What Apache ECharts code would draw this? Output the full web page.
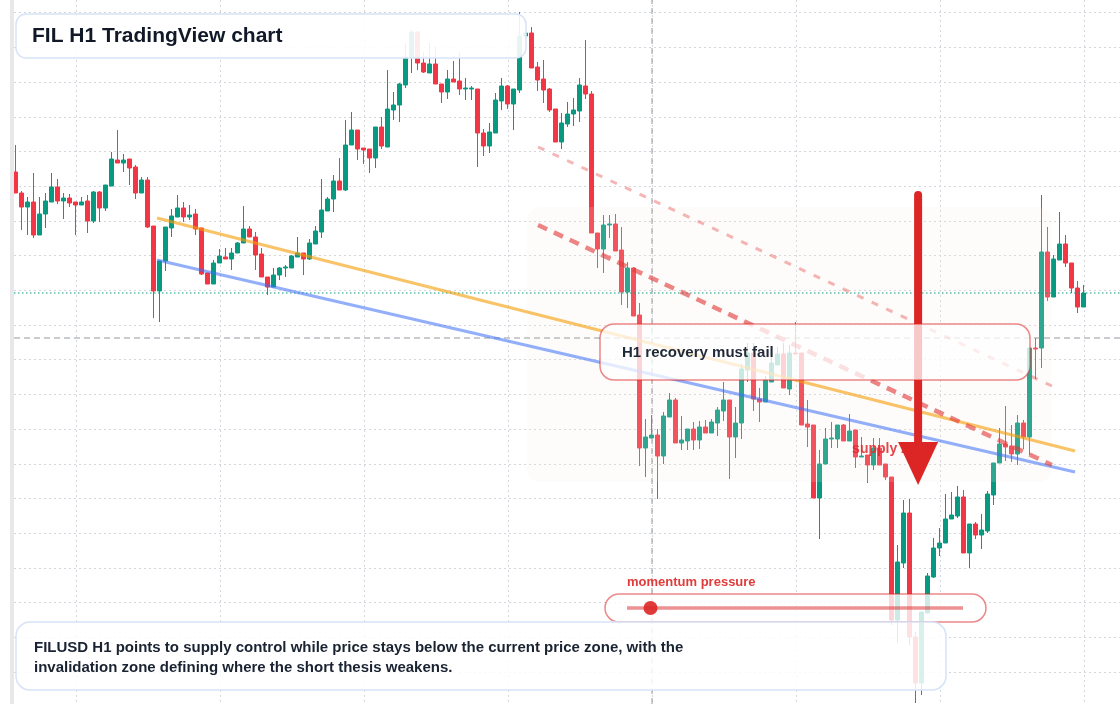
<!DOCTYPE html>
<html><head><meta charset="utf-8">
<script src="https://cdn.jsdelivr.net/npm/echarts@6/dist/echarts.min.js"></script>
<style>html,body{margin:0;padding:0;background:#fff}#chart{width:1120px;height:704px}</style>
</head><body><div id="chart"></div>
<script>
// FIL/USD hourly candles (price units)
const openP = [
5.32,5.11,4.97,5.02,4.69,4.90,5.02,5.17,5.03,5.06,
5.02,4.99,5.03,4.83,5.12,4.96,5.18,5.44,5.41,5.45,
5.37,5.11,5.24,4.78,4.13,4.43,4.76,4.87,4.96,4.87,
4.90,4.76,4.31,4.20,4.41,4.47,4.45,4.51,4.61,4.75,
4.67,4.50,4.27,4.17,4.29,4.36,4.36,4.47,4.51,4.45,
4.60,4.72,4.93,5.05,5.23,5.14,5.59,5.74,5.56,5.55,
5.46,5.77,5.57,5.94,5.99,6.19,6.47,6.72,6.41,6.31,
6.40,6.20,6.12,6.25,6.23,6.15,6.15,6.15,5.71,5.58,
5.71,6.03,6.18,6.00,6.14,6.68,6.71,6.37,6.25,6.15,
5.95,5.62,5.80,5.90,5.93,6.18,6.10,4.71,4.55,4.79,
4.80,4.54,4.12,4.36,3.89,2.56,2.66,2.69,2.48,2.87,
3.04,2.61,2.63,2.75,2.64,2.77,2.71,2.81,2.93,3.04,
2.67,2.81,3.34,3.51,3.05,3.02,3.22,3.39,3.50,3.15,
3.51,3.51,2.80,2.79,2.06,2.40,2.65,2.65,2.79,2.63,
2.74,2.47,2.49,2.39,2.56,2.40,2.27,0.84,1.41,1.91,
0.67,0.21,0.91,1.27,1.56,1.61,1.85,1.88,2.07,1.51,
1.80,1.69,1.73,2.09,2.41,2.60,2.58,2.50,2.81,2.67,
3.56,3.56,4.52,4.07,4.44,4.60,4.41,4.16,3.97
];
const closeP = [
5.11,4.97,5.02,4.69,4.90,5.03,5.17,5.03,5.06,5.01,
4.99,5.02,4.83,5.12,4.96,5.19,5.45,5.41,5.44,5.36,
5.11,5.24,4.77,4.13,4.43,4.77,4.88,4.96,4.87,4.89,
4.75,4.30,4.20,4.41,4.48,4.45,4.51,4.61,4.75,4.67,
4.49,4.27,4.17,4.29,4.36,4.37,4.48,4.51,4.45,4.61,
4.73,4.94,5.05,5.23,5.14,5.59,5.74,5.55,5.54,5.46,
5.77,5.58,5.95,5.99,6.20,6.47,6.72,6.41,6.32,6.40,
6.20,6.12,6.25,6.22,6.15,6.16,6.16,5.71,5.58,5.72,
6.04,6.18,6.00,6.15,6.68,6.71,6.36,6.24,6.14,5.94,
5.62,5.81,5.90,5.94,6.19,6.10,4.71,4.55,4.79,4.80,
4.53,4.12,4.36,3.88,2.56,2.67,2.69,2.48,2.88,3.04,
2.61,2.64,2.75,2.64,2.77,2.71,2.82,2.94,3.04,2.67,
2.81,3.35,3.51,3.05,3.02,3.24,3.41,3.50,3.16,3.51,
3.50,2.79,2.77,2.06,2.40,2.65,2.66,2.79,2.63,2.73,
2.47,2.48,2.39,2.56,2.39,2.27,0.84,1.42,1.91,0.67,
0.21,0.92,1.28,1.56,1.61,1.85,1.89,2.07,1.51,1.80,
1.69,1.74,2.10,2.41,2.60,2.57,2.50,2.81,2.67,3.56,
3.55,4.52,4.07,4.45,4.60,4.41,4.16,3.97,4.11
];
const lowP = [
5.11,4.74,4.69,4.66,4.69,4.76,5.02,5.00,4.85,4.97,
4.69,4.99,4.71,4.81,4.82,4.93,5.18,5.41,5.32,5.19,
5.05,5.11,4.76,3.86,3.82,4.33,4.67,4.87,4.82,4.84,
4.69,4.29,4.20,4.20,4.41,4.45,4.34,4.51,4.61,4.67,
4.34,4.27,4.09,4.17,4.24,4.27,4.36,4.47,4.29,4.44,
4.60,4.66,4.93,4.92,5.14,5.13,5.59,5.44,5.40,5.31,
5.36,5.55,5.57,5.84,5.82,6.16,6.31,6.34,6.31,6.31,
6.20,6.01,6.05,6.22,6.09,6.04,6.04,5.37,5.48,5.51,
5.71,5.94,5.95,5.74,6.11,6.66,6.36,6.13,6.01,5.92,
5.62,5.55,5.77,5.78,5.82,6.05,4.71,4.36,4.31,4.66,
4.53,3.99,3.96,3.88,2.38,2.27,2.66,2.05,2.40,2.87,
2.61,2.54,2.54,2.54,2.55,2.71,2.71,2.68,2.83,2.25,
2.46,2.65,3.22,2.93,2.82,3.02,3.22,3.39,3.16,3.09,
3.50,2.79,2.57,2.06,1.65,2.40,2.56,2.56,2.63,2.63,
2.36,2.47,2.21,2.34,2.39,2.24,0.79,0.61,1.36,0.59,
0.01,0.09,0.91,1.26,1.48,1.61,1.85,1.86,1.51,1.36,
1.65,1.55,1.71,1.99,2.41,2.43,2.42,2.39,2.55,2.49,
3.25,3.36,4.03,4.07,4.44,4.37,4.11,3.91,3.97
];
const highP = [
5.59,5.13,5.07,5.31,5.07,5.11,5.31,5.25,5.11,5.10,
5.02,5.07,5.09,5.13,5.13,5.19,5.52,5.74,5.50,5.45,
5.39,5.27,5.27,4.78,4.43,4.77,4.95,5.09,5.02,4.99,
4.95,4.76,4.31,4.44,4.55,4.56,4.56,4.62,4.98,4.78,
4.72,4.56,4.27,4.36,4.37,4.39,4.49,4.67,4.51,4.65,
4.78,5.25,5.07,5.29,5.46,5.84,5.92,5.74,5.56,5.55,
5.77,5.87,6.34,6.12,6.21,6.61,6.74,6.73,6.52,6.61,
6.57,6.20,6.34,6.43,6.52,6.26,6.18,6.15,5.75,5.81,
6.11,6.26,6.19,6.15,6.92,6.73,6.77,6.42,6.44,6.16,
5.95,5.91,6.02,6.06,6.26,6.64,6.13,4.71,4.89,4.89,
4.90,4.77,4.42,4.37,4.01,2.85,2.89,2.75,2.92,3.11,
3.06,2.88,2.75,2.82,2.83,2.84,2.85,2.97,3.22,3.04,
2.97,3.40,3.61,3.61,3.16,3.28,3.57,3.57,3.61,3.59,
3.82,3.51,3.04,2.79,2.54,2.76,2.82,2.79,2.80,2.90,
2.74,2.67,2.49,2.66,2.66,2.40,2.27,1.59,2.04,2.05,
0.72,0.92,1.31,1.66,1.76,2.10,2.12,2.18,2.14,1.80,
1.82,1.90,2.13,2.41,2.76,2.98,2.79,2.89,2.84,3.56,
3.66,5.09,4.77,4.49,4.92,4.69,4.41,4.23,4.19
];
const categories = openP.map((_, i) => 'H1-' + (i + 1));

// annotations, in [candle index, price] units
const zoneBox = [85.2, 4.97, 172.7, 2.22];
const orangeTrend = [[23.55, 4.86], [176.55, 2.53]];
const blueTrend = [[23.55, 4.44], [176.55, 2.32]];
const upperRedDash = [[87.05, 5.57], [172.7, 3.18]];
const lowerRedDash = [[87.05, 4.79], [172.7, 2.39]];
const currentPrice = 4.11;
const crossPrice = 3.66;
const crossIndex = 106.05;
const arrowSpec = [150.4, 5.09, 2.62, 2.19];
const supplyLabel = [139.4, 2.55];
const momentumLevel = 0.07;

const FONT = '"Liberation Sans", Arial, Helvetica, sans-serif';
const UP = '#089981', DOWN = '#f23645';
const GRID_LINE = {show: true, lineStyle: {color: '#d3d7dd', width: 1, type: [2, 3]}};
const HIDDEN = {axisLine: {show: false}, axisTick: {show: false}, axisLabel: {show: false}};

const candles = openP.map((o, i) => [o, closeP[i], lowP[i], highP[i]]);

const chart = echarts.init(document.getElementById('chart'), null, {renderer: 'canvas'});

const trackX0 = 627, trackX1 = 963;
const knobX = trackX0 + momentumLevel * (trackX1 - trackX0);

chart.setOption({
  animation: false,
  backgroundColor: '#ffffff',
  grid: [
    {left: 12.7, top: 0, width: 1074, height: 704},
    {left: 14, right: 0, top: 12.7, bottom: 32},
    {left: 76, right: 36, top: 0, bottom: 0},
    {left: 14, right: 0, top: 0, bottom: 0}
  ],
  xAxis: [
    {type: 'category', gridIndex: 0, data: categories, show: false, boundaryGap: true},
    {type: 'value', gridIndex: 0, min: -0.5, max: 178.5, show: false},
    Object.assign({type: 'value', gridIndex: 1, min: 0, max: 1, splitLine: {show: false}}, HIDDEN),
    Object.assign({type: 'value', gridIndex: 2, min: 0, max: 7, interval: 1, splitLine: GRID_LINE}, HIDDEN),
    {type: 'value', gridIndex: 3, min: 0, max: 1, show: false}
  ],
  yAxis: [
    {type: 'value', gridIndex: 0, min: 0, max: 7.04, show: false, splitLine: {show: false}},
    Object.assign({type: 'value', gridIndex: 1, min: 0, max: 19, interval: 1, splitLine: GRID_LINE}, HIDDEN),
    Object.assign({type: 'value', gridIndex: 2, min: 0, max: 1, splitLine: {show: false}}, HIDDEN),
    {type: 'value', gridIndex: 3, min: 0, max: 7.04, show: false}
  ],
  series: [
    {type: 'scatter', xAxisIndex: 2, yAxisIndex: 1, data: [], silent: true},
    {type: 'scatter', xAxisIndex: 3, yAxisIndex: 2, data: [], silent: true},
    {
      type: 'candlestick', xAxisIndex: 0, yAxisIndex: 0, z: 2,
      data: candles, barWidth: 4,
      itemStyle: {color: UP, color0: DOWN, borderColor: UP, borderColor0: DOWN, borderWidth: 1}
    },
    {
      type: 'custom', xAxisIndex: 1, yAxisIndex: 0, z: 3, silent: true,
      data: [zoneBox],
      encode: {x: [0, 2], y: [1, 3]},
      renderItem: (params, api) => {
        const p1 = api.coord([api.value(0), api.value(1)]);
        const p2 = api.coord([api.value(2), api.value(3)]);
        return {type: 'rect', shape: {x: p1[0], y: p1[1], width: p2[0] - p1[0], height: p2[1] - p1[1], r: 14},
          style: {fill: 'rgba(250,235,225,0.16)'}};
      }
    },
    {type: 'line', xAxisIndex: 4, yAxisIndex: 3, z: 4, silent: true, symbol: 'none',
      data: [[0, currentPrice], [1, currentPrice]],
      lineStyle: {color: UP, width: 1.2, type: [1.5, 2.5]}},
    {type: 'line', xAxisIndex: 4, yAxisIndex: 3, z: 4, silent: true, symbol: 'none',
      data: [[0, crossPrice], [1, crossPrice]],
      lineStyle: {color: '#8a8f96', width: 1, type: [6, 4], opacity: 0.9}},
    {type: 'line', xAxisIndex: 1, yAxisIndex: 0, z: 4, silent: true, symbol: 'none',
      data: [[crossIndex, 0], [crossIndex, 7.04]],
      lineStyle: {color: '#8a8f96', width: 1, type: [6, 4], opacity: 0.9}},
    {type: 'line', xAxisIndex: 1, yAxisIndex: 0, z: 4, silent: true, symbol: 'none',
      data: orangeTrend, lineStyle: {color: '#f59e0b', width: 3.2, opacity: 0.62}},
    {type: 'line', xAxisIndex: 1, yAxisIndex: 0, z: 4, silent: true, symbol: 'none',
      data: blueTrend, lineStyle: {color: '#3b6ef5', width: 3.2, opacity: 0.55}},
    {type: 'line', xAxisIndex: 1, yAxisIndex: 0, z: 4, silent: true, symbol: 'none',
      data: upperRedDash, lineStyle: {color: '#e53e3e', width: 3, opacity: 0.38, type: [7, 9]}},
    {type: 'line', xAxisIndex: 1, yAxisIndex: 0, z: 4, silent: true, symbol: 'none',
      data: lowerRedDash, lineStyle: {color: '#e03a3a', width: 4.5, opacity: 0.62, type: [10, 7.5]}},
    {
      type: 'custom', xAxisIndex: 1, yAxisIndex: 0, z: 5, silent: true,
      data: [supplyLabel],
      renderItem: (params, api) => {
        const p = api.coord([api.value(0), api.value(1)]);
        return {type: 'text', x: p[0], y: p[1],
          style: {text: 'supply zone', fill: 'rgba(222,40,44,0.85)', font: 'bold 14px ' + FONT,
            align: 'left', verticalAlign: 'middle', textAlign: 'left', textVerticalAlign: 'middle'}};
      }
    },
    {
      type: 'custom', xAxisIndex: 1, yAxisIndex: 0, z: 6, silent: true,
      data: [arrowSpec],
      renderItem: (params, api) => {
        const top = api.coord([api.value(0), api.value(1)]);
        const base = api.coord([api.value(0), api.value(2)]);
        const tip = api.coord([api.value(0), api.value(3)]);
        return {type: 'group', children: [
          {type: 'line', shape: {x1: top[0], y1: top[1], x2: base[0], y2: base[1] + 2},
            style: {stroke: '#dc2626', lineWidth: 8, lineCap: 'round'}},
          {type: 'polygon', shape: {points: [[base[0] - 20, base[1]], [base[0] + 20, base[1]], [tip[0], tip[1]]]},
            style: {fill: '#dc2626'}}
        ]};
      }
    }
  ],
  graphic: [
    {type: 'rect', z: 100, shape: {x: 0, y: 0, width: 10, height: 704}, style: {fill: '#ffffff'}},
    {type: 'rect', z: 100, shape: {x: 10, y: 0, width: 4, height: 704}, style: {fill: '#e8e8eb'}},
    {type: 'rect', z: 100, shape: {x: 16, y: 14, width: 510, height: 44, r: 10},
      style: {fill: 'rgba(255,255,255,0.9)', stroke: '#d6e3f8', lineWidth: 1.5}},
    {type: 'text', z: 101, x: 32, y: 36,
      style: {text: 'FIL H1 TradingView chart', font: 'bold 21px ' + FONT, fill: '#111827',
        align: 'left', verticalAlign: 'middle', textAlign: 'left', textVerticalAlign: 'middle'}},
    {type: 'rect', z: 100, shape: {x: 600, y: 324, width: 430, height: 56, r: 14},
      style: {fill: 'rgba(255,255,255,0.75)', stroke: 'rgba(220,38,38,0.55)', lineWidth: 1.5}},
    {type: 'text', z: 101, x: 622, y: 353,
      style: {text: 'H1 recovery must fail', font: 'bold 15px ' + FONT, fill: '#1f2937',
        align: 'left', verticalAlign: 'middle', textAlign: 'left', textVerticalAlign: 'middle'}},
    {type: 'text', z: 101, x: 627, y: 582,
      style: {text: 'momentum pressure', font: 'bold 13px ' + FONT, fill: '#e03b3b',
        align: 'left', verticalAlign: 'middle', textAlign: 'left', textVerticalAlign: 'middle'}},
    {type: 'rect', z: 100, shape: {x: 605, y: 594, width: 381, height: 28, r: 14},
      style: {fill: 'rgba(255,255,255,0.8)', stroke: 'rgba(220,38,38,0.55)', lineWidth: 1.5}},
    {type: 'line', z: 101, shape: {x1: trackX0, y1: 608, x2: trackX1, y2: 608},
      style: {stroke: 'rgba(220,38,38,0.5)', lineWidth: 3.5}},
    {type: 'circle', z: 102, shape: {cx: knobX, cy: 608, r: 7}, style: {fill: 'rgba(220,38,38,0.9)'}},
    {type: 'rect', z: 100, shape: {x: 16, y: 622, width: 930, height: 68, r: 14},
      style: {fill: 'rgba(255,255,255,0.85)', stroke: '#d6e3f8', lineWidth: 1.5}},
    {type: 'text', z: 101, x: 34, y: 658,
      style: {text: 'FILUSD H1 points to supply control while price stays below the current price zone, with the\ninvalidation zone defining where the short thesis weakens.',
        font: 'bold 15px ' + FONT, fill: '#1a2332', lineHeight: 20,
        align: 'left', verticalAlign: 'middle', textAlign: 'left', textVerticalAlign: 'middle'}}
  ]
});
</script>
</body></html>
